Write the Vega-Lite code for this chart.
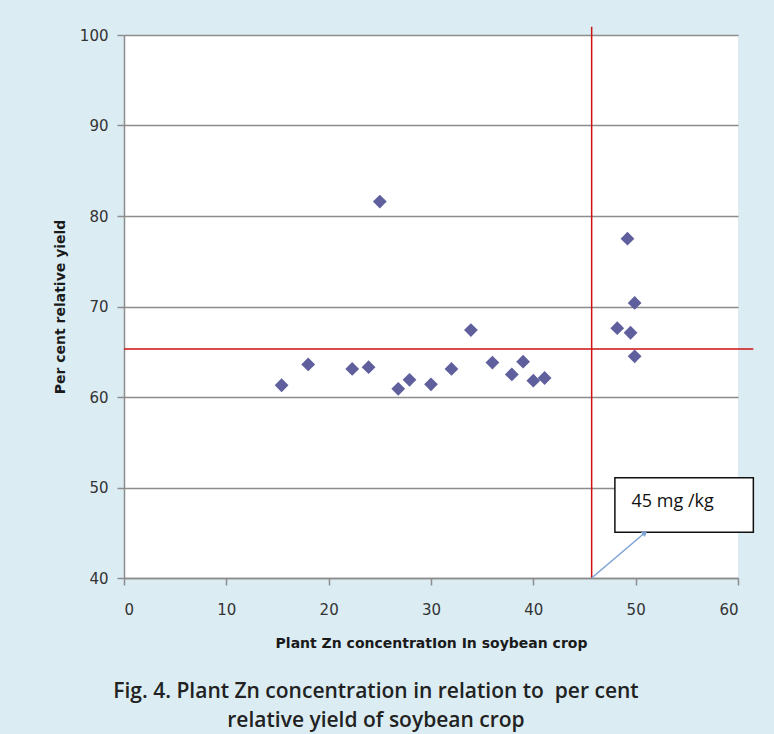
{
  "$schema": "https://vega.github.io/schema/vega-lite/v6.json",
  "autosize": {"type": "none"},
  "width": 614,
  "height": 543,
  "padding": {"left": 124, "top": 35, "right": 36, "bottom": 156},
  "background": "#dbedf3",
  "config": {
    "view": {"fill": "white", "stroke": null},
    "axis": {
      "domainColor": "#8c8c8c",
      "domainWidth": 1.5,
      "tickColor": "#8c8c8c",
      "tickWidth": 1.5,
      "tickSize": 7,
      "labelFont": "DejaVu Sans",
      "labelFontSize": 15,
      "labelColor": "#333333",
      "titleFont": "DejaVu Sans",
      "titleFontSize": 14,
      "titleFontWeight": "bold",
      "titleColor": "#1a1a1a"
    }
  },
  "title": {
    "text": ["Fig. 4. Plant Zn concentration in relation to \u00a0per cent", "relative yield of soybean crop"],
    "orient": "bottom",
    "anchor": "middle",
    "dx": -55,
    "offset": 31,
    "font": "Open Sans",
    "fontSize": 21,
    "fontWeight": 600,
    "color": "#222222",
    "lineHeight": 29
  },
  "datasets": {
    "points": [
      {"zn": 15.4, "yield": 61.3},
      {"zn": 18.0, "yield": 63.6},
      {"zn": 22.3, "yield": 63.1},
      {"zn": 23.9, "yield": 63.3},
      {"zn": 25.0, "yield": 81.6},
      {"zn": 26.8, "yield": 60.9},
      {"zn": 27.9, "yield": 61.9},
      {"zn": 30.0, "yield": 61.4},
      {"zn": 32.0, "yield": 63.1},
      {"zn": 33.9, "yield": 67.4},
      {"zn": 36.0, "yield": 63.8},
      {"zn": 37.9, "yield": 62.5},
      {"zn": 39.0, "yield": 63.9},
      {"zn": 40.0, "yield": 61.8},
      {"zn": 41.1, "yield": 62.1},
      {"zn": 49.2, "yield": 77.5},
      {"zn": 49.9, "yield": 70.4},
      {"zn": 48.2, "yield": 67.6},
      {"zn": 49.5, "yield": 67.1},
      {"zn": 49.9, "yield": 64.5}
    ],
    "redlines": [
      {"x1": 45.7, "x2": 45.7, "y1": 40, "y2": 100.9},
      {"x1": 0, "x2": 61.5, "y1": 65.3, "y2": 65.3}
    ],
    "box": [
      {"x1": 47.97, "x2": 61.5, "y1": 45.05, "y2": 51.08}
    ],
    "label": [
      {"x": 49.6, "y": 48.4, "text": "45 mg /kg"}
    ],
    "arrow": [
      {"x1": 45.7, "y1": 40, "x2": 50.9, "y2": 45.0}
    ]
  },
  "layer": [
    {
      "data": {"name": "points"},
      "mark": {"type": "point", "shape": "diamond", "filled": true, "size": 190, "color": "#5f5f9e", "opacity": 1},
      "encoding": {
        "x": {
          "field": "zn", "type": "quantitative",
          "scale": {"domain": [0, 60], "nice": false},
          "axis": {"values": [0, 10, 20, 30, 40, 50, 60], "grid": false, "labelPadding": 17, "title": "Plant Zn concentratIon In soybean crop", "titlePadding": 19}
        },
        "y": {
          "field": "yield", "type": "quantitative",
          "scale": {"domain": [40, 100], "nice": false},
          "axis": {"values": [40, 50, 60, 70, 80, 90, 100], "grid": true, "gridColor": "#8c8c8c", "gridWidth": 1.5, "labelPadding": 9, "title": "Per cent relative yield", "titlePadding": 12}
        }
      }
    },
    {
      "data": {"name": "redlines"},
      "mark": {"type": "rule", "color": "#cc1111", "strokeWidth": 1.5},
      "encoding": {
        "x": {"field": "x1", "type": "quantitative"},
        "x2": {"field": "x2"},
        "y": {"field": "y1", "type": "quantitative"},
        "y2": {"field": "y2"}
      }
    },
    {
      "data": {"name": "box"},
      "mark": {"type": "rect", "fill": "white", "stroke": "#111111", "strokeWidth": 1.5},
      "encoding": {
        "x": {"field": "x1", "type": "quantitative"},
        "x2": {"field": "x2"},
        "y": {"field": "y1", "type": "quantitative"},
        "y2": {"field": "y2"}
      }
    },
    {
      "data": {"name": "label"},
      "mark": {"type": "text", "align": "left", "baseline": "middle", "font": "Open Sans", "fontSize": 18, "color": "#111111"},
      "encoding": {
        "x": {"field": "x", "type": "quantitative"},
        "y": {"field": "y", "type": "quantitative"},
        "text": {"field": "text"}
      }
    },
    {
      "data": {"name": "arrow"},
      "mark": {"type": "rule", "color": "#7aa2d4", "strokeWidth": 1.5},
      "encoding": {
        "x": {"field": "x1", "type": "quantitative"},
        "x2": {"field": "x2"},
        "y": {"field": "y1", "type": "quantitative"},
        "y2": {"field": "y2"}
      }
    },
    {
      "data": {"name": "arrow"},
      "mark": {"type": "point", "shape": "triangle-up", "filled": true, "size": 40, "angle": 49, "color": "#7aa2d4", "opacity": 1},
      "encoding": {
        "x": {"field": "x2", "type": "quantitative"},
        "y": {"field": "y2", "type": "quantitative"}
      }
    }
  ]
}
